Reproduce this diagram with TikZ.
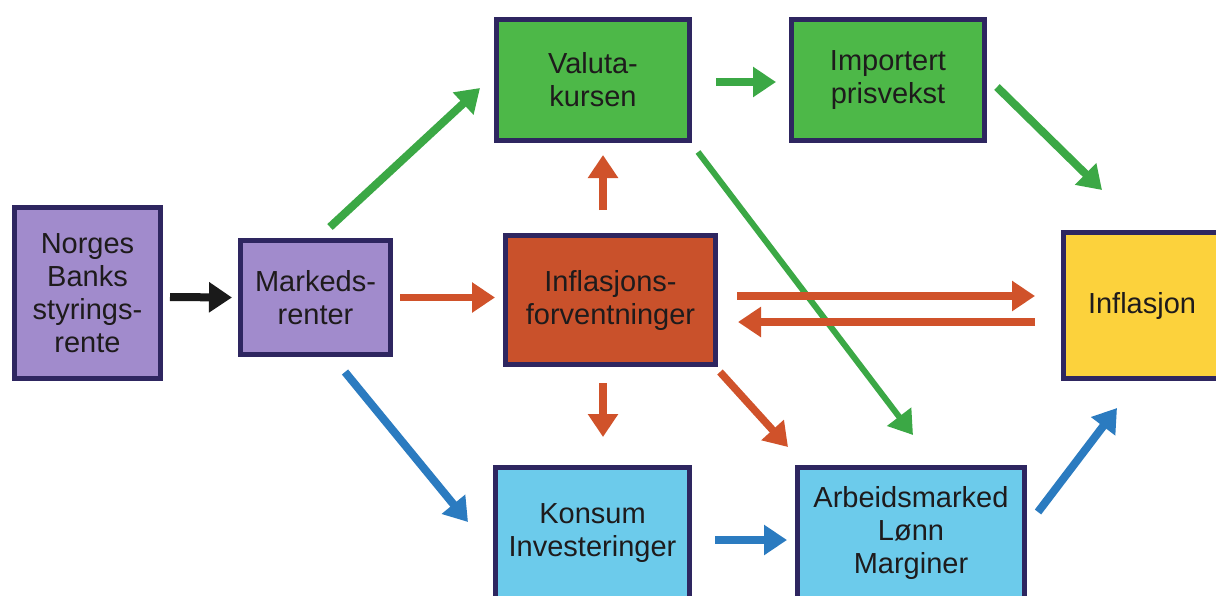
\documentclass[tikz,border=0pt]{standalone}
\usepackage{fontspec}
\setmainfont{Liberation Sans}
\usetikzlibrary{arrows.meta,calc}
\definecolor{bordc}{HTML}{2E2660}
\definecolor{purp}{HTML}{A18BCC}
\definecolor{grn}{HTML}{4DB848}
\definecolor{grnA}{HTML}{3BA845}
\definecolor{org}{HTML}{C9512B}
\definecolor{orgA}{HTML}{D0522A}
\definecolor{lblue}{HTML}{6CCBEB}
\definecolor{bluA}{HTML}{2B7BC0}
\definecolor{yel}{HTML}{FCD23C}
\definecolor{txt}{HTML}{1E1B1C}
\definecolor{blkA}{HTML}{1A1A1A}
\tikzset{
  box/.style={draw=bordc, line width=5pt, align=center, text=txt, inner sep=2pt,
    font=\fontsize{29}{33}\selectfont},
  arr/.style={line width=#1, -{Triangle[length=23pt,width=29pt]}},
  arr/.default=8pt
}
\begin{document}
\begin{tikzpicture}[x=1pt,y=-1pt]
\useasboundingbox (0,0) rectangle (1216,595);
\clip (0,0) rectangle (1216,595);
\fill[white] (0,0) rectangle (1216,595);
% boxes
\node[box, fill=purp, minimum width=146pt, minimum height=171pt] (norges) at (87.5,293) {Norges\\Banks\\styrings-\\rente};
\node[box, fill=purp, minimum width=150pt, minimum height=114pt] (markeds) at (315.5,297.5) {Markeds-\\renter};
\node[box, fill=grn, minimum width=193pt, minimum height=121pt] (valuta) at (593,80) {Valuta-\\kursen};
\node[box, fill=grn, minimum width=193pt, minimum height=121pt] (import) at (888,80) {Importert\\prisvekst};
\node[box, fill=org, minimum width=210pt, minimum height=129pt] (forv) at (610.5,300) {Inflasjons-\\forventninger};
\node[box, fill=yel, minimum width=157pt, minimum height=146pt] (infl) at (1142,305.5) {Inflasjon};
\node[box, fill=lblue, minimum width=194pt, minimum height=131pt] (konsum) at (592.5,533) {Konsum\\Investeringer};
\node[box, fill=lblue, minimum width=227pt, minimum height=131pt] (arb) at (911,533) {Arbeidsmarked\\Lønn\\Marginer};
% connectors
\draw[arr, blkA] ($(norges.east)+(7,4)$) -- ($(markeds.west)+(-6,0)$);
\draw[arr=7.5pt, orgA] ($(markeds.east)+(7,0)$) -- ($(markeds.east -| forv.west)+(-8,0)$);
\draw[arr, grnA] ($(markeds.north)+(14.5,-11)$) -- ($(valuta.west)+(-14,8)$);
\draw[arr, bluA] ($(markeds.south)+(29.5,15)$) -- ($(konsum.west)+(-25,-11)$);
\draw[arr, grnA] ($(valuta.east)+(24,2)$) -- ($(import.west)+(-13,2)$);
\draw[arr, grnA] ($(import.east)+(10,7)$) -- ($(infl.north)+(-40,-40)$);
\draw[arr=6pt, grnA] ($(valuta.south east)+(6,9)$) -- ($(arb.north)+(2,-30)$);
\draw[arr=7.5pt, orgA] ($(forv.north)+(-7.5,-23)$) -- ($(valuta.south)+(10,12)$);
\draw[arr=7.5pt, orgA] ($(forv.south)+(-7.5,16)$) -- ($(konsum.north)+(10.5,-28)$);
\draw[arr=7.5pt, orgA] ($(forv.south east)+(2,5)$) -- ($(arb.north west)+(-7,-18)$);
\draw[arr=7.5pt, orgA] ($(forv.east)+(19,-4)$) -- ($(infl.west)+(-26,-9.5)$);
\draw[arr=7.5pt, orgA] ($(infl.west)+(-26,16.5)$) -- ($(forv.east)+(20,22)$);
\draw[arr, bluA] ($(konsum.east)+(23,7)$) -- ($(arb.west)+(-8,7)$);
\draw[arr, bluA] ($(arb.east)+(11,-21)$) -- ($(infl.south)+(-25,27)$);
\end{tikzpicture}
\end{document}
